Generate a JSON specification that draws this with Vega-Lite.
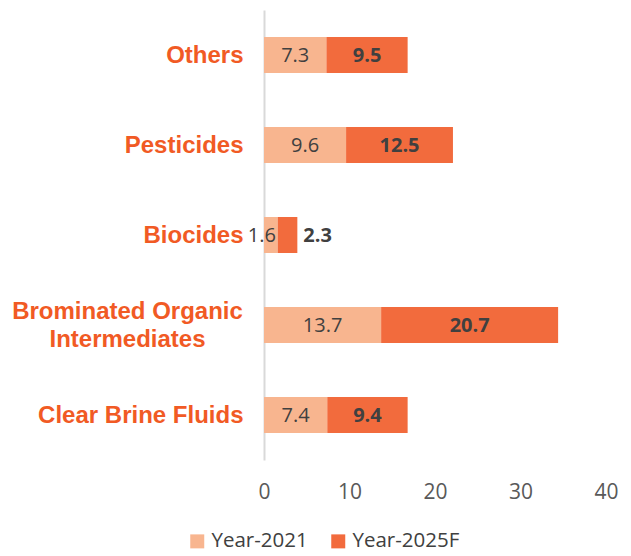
{
  "$schema": "https://vega.github.io/schema/vega-lite/v6.json",
  "width": 342,
  "height": 450,
  "autosize": "none",
  "padding": {"left": 264, "top": 10, "right": 25, "bottom": 96},
  "background": "white",
  "config": {"view": {"stroke": null}},
  "data": {
    "values": [
      {"category": "Others", "year": "Year-2021", "value": 7.3},
      {"category": "Others", "year": "Year-2025F", "value": 9.5},
      {"category": "Pesticides", "year": "Year-2021", "value": 9.6},
      {"category": "Pesticides", "year": "Year-2025F", "value": 12.5},
      {"category": "Biocides", "year": "Year-2021", "value": 1.6},
      {"category": "Biocides", "year": "Year-2025F", "value": 2.3},
      {"category": "Brominated Organic Intermediates", "year": "Year-2021", "value": 13.7},
      {"category": "Brominated Organic Intermediates", "year": "Year-2025F", "value": 20.7},
      {"category": "Clear Brine Fluids", "year": "Year-2021", "value": 7.4},
      {"category": "Clear Brine Fluids", "year": "Year-2025F", "value": 9.4}
    ]
  },
  "transform": [
    {"stack": "value", "groupby": ["category"], "sort": [{"field": "year", "order": "ascending"}], "as": ["v0", "v1"]},
    {"calculate": "(datum.v0 + datum.v1) / 2", "as": "mid"}
  ],
  "encoding": {
    "y": {
      "field": "category",
      "type": "nominal",
      "sort": ["Others", "Pesticides", "Biocides", "Brominated Organic Intermediates", "Clear Brine Fluids"],
      "scale": {"paddingInner": 0.6, "paddingOuter": 0.3},
      "axis": {
        "title": null,
        "domainColor": "#d9d9d9",
        "domainWidth": 2,
        "ticks": false,
        "labelFont": "Liberation Sans",
        "labelFontWeight": "bold",
        "labelFontSize": 24,
        "labelColor": "#F15A24",
        "labelLimit": 400,
        "labelLineHeight": 28,
        "labelAlign": {"condition": {"test": "datum.value == 'Brominated Organic Intermediates'", "value": "center"}, "value": "right"},
        "labelPadding": {"condition": {"test": "datum.value == 'Brominated Organic Intermediates'", "value": 137}, "value": 21},
        "labelOffset": {"condition": {"test": "datum.value == 'Brominated Organic Intermediates'", "value": -13}, "value": 1},
        "labelExpr": "datum.value == 'Brominated Organic Intermediates' ? ['Brominated Organic', 'Intermediates'] : datum.value"
      }
    }
  },
  "layer": [
    {
      "mark": {"type": "bar"},
      "encoding": {
        "x": {
          "field": "v0",
          "type": "quantitative",
          "scale": {"domain": [0, 40]},
          "axis": {
            "title": null,
            "values": [0, 10, 20, 30, 40],
            "domain": false,
            "ticks": false,
            "grid": false,
            "labelFlush": false,
            "labelFont": "Open Sans",
            "labelFontSize": 21,
            "labelColor": "#595959",
            "labelPadding": 21
          }
        },
        "x2": {"field": "v1"},
        "color": {
          "field": "year",
          "type": "nominal",
          "scale": {"domain": ["Year-2021", "Year-2025F"], "range": ["#F8B58F", "#F26B3D"]},
          "legend": {
            "title": null,
            "orient": "none",
            "legendX": -77,
            "legendY": 521,
            "direction": "horizontal",
            "symbolType": "square",
            "symbolSize": 196,
            "symbolStrokeWidth": 0,
            "labelFont": "Open Sans",
            "labelFontSize": 20.5,
            "labelColor": "#404040",
            "columnPadding": 20,
            "labelOffset": 4
          }
        }
      }
    },
    {
      "transform": [{"filter": "datum.category != 'Biocides' && datum.year == 'Year-2021'"}],
      "mark": {"type": "text", "font": "Open Sans", "fontSize": 20, "color": "#404040", "dy": 1},
      "encoding": {"x": {"field": "mid", "type": "quantitative"}, "text": {"field": "value", "format": ".1f"}}
    },
    {
      "transform": [{"filter": "datum.category != 'Biocides' && datum.year == 'Year-2025F'"}],
      "mark": {"type": "text", "font": "Open Sans", "fontSize": 20, "fontWeight": "bold", "color": "#404040", "dy": 1},
      "encoding": {"x": {"field": "mid", "type": "quantitative"}, "text": {"field": "value", "format": ".1f"}}
    },
    {
      "transform": [{"filter": "datum.category == 'Biocides' && datum.year == 'Year-2021'"}],
      "mark": {"type": "text", "font": "Open Sans", "fontSize": 20, "color": "#404040", "dx": -9, "dy": 1},
      "encoding": {"x": {"field": "mid", "type": "quantitative"}, "text": {"field": "value", "format": ".1f"}}
    },
    {
      "transform": [{"filter": "datum.category == 'Biocides' && datum.year == 'Year-2025F'"}],
      "mark": {"type": "text", "font": "Open Sans", "fontSize": 20, "fontWeight": "bold", "color": "#404040", "align": "left", "dx": 6, "dy": 1},
      "encoding": {"x": {"field": "v1", "type": "quantitative"}, "text": {"field": "value", "format": ".1f"}}
    }
  ]
}
